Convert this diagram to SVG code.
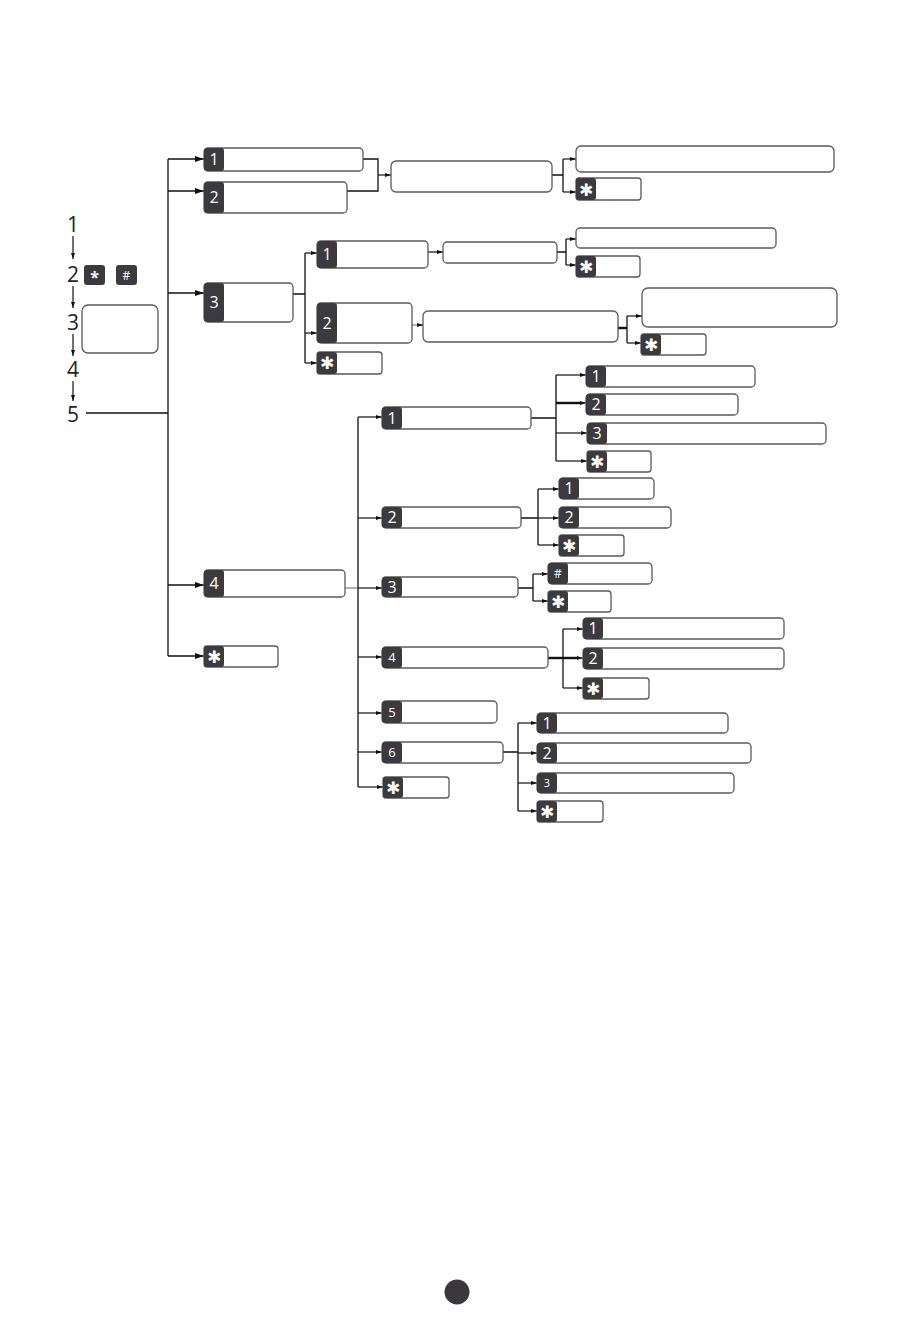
<svg xmlns="http://www.w3.org/2000/svg" width="914" height="1324" viewBox="0 0 914 1324">
<defs>
<style>
.bx{fill:#fff;stroke:#5a5a5a;stroke-width:1.3}
.k{fill:#3b3a3e}
.kt{fill:#fff;font-family:"Open Sans","Liberation Sans",sans-serif;font-size:16px;text-anchor:middle}
.ks{fill:#fff;font-family:"DejaVu Sans",sans-serif;font-size:17px;text-anchor:middle}
.num{fill:#231f20;font-family:"Open Sans","Liberation Sans",sans-serif;font-size:21px;text-anchor:middle}
.c{fill:none;stroke:#111;stroke-width:1.3}
.cg{fill:none;stroke:#888;stroke-width:1.3}
.ct{fill:none;stroke:#111;stroke-width:2.4}
.al{fill:none;stroke:#111;stroke-width:1.3;marker-end:url(#ml)}
.as{fill:none;stroke:#111;stroke-width:1.2;marker-end:url(#ms)}
</style>
<marker id="ml" markerUnits="userSpaceOnUse" markerWidth="9" markerHeight="6" refX="9" refY="3" orient="auto"><path d="M0,0 L9,3 L0,6 z" fill="#111"/></marker>
<marker id="ms" markerUnits="userSpaceOnUse" markerWidth="6" markerHeight="4" refX="6" refY="2" orient="auto"><path d="M0,0 L6,2 L0,4 z" fill="#111"/></marker>
</defs>
<rect width="914" height="1324" fill="#fff"/>

<g id="connectors">
<path class="as" d="M73,236 V259"/>
<path class="as" d="M73,286 V308"/>
<path class="as" d="M73,334 V356"/>
<path class="as" d="M73,381 V401"/>
<path class="c" d="M86,413 H168 M168,159 V656"/>
<path class="al" d="M168,159 H204"/>
<path class="al" d="M168,191 H204"/>
<path class="al" d="M168,293 H204"/>
<path class="al" d="M168,585 H204"/>
<path class="al" d="M168,656 H204"/>
<path class="c" d="M363,159 H378 V191 H347"/>
<path class="as" d="M378,175 H391"/>
<path class="c" d="M552,175 H563 M563,159 V192"/>
<path class="as" d="M563,159 H576"/>
<path class="as" d="M563,192 H576"/>
<path class="c" d="M293,294 H305 M305,253 V363"/>
<path class="as" d="M305,253 H317"/>
<path class="as" d="M305,333 H317"/>
<path class="as" d="M305,363 H317"/>
<path class="as" d="M428,252 H443"/>
<path class="c" d="M557,252 H566 M566,239 V265"/>
<path class="as" d="M566,239 H576"/>
<path class="as" d="M566,265 H576"/>
<path class="cg" d="M412,325 H418"/>
<path class="as" d="M417,325 H423"/>
<path class="ct" d="M618,328 H627"/>
<path class="c" d="M627,316 V343"/>
<path class="as" d="M627,316 H642"/>
<path class="as" d="M627,343 H641"/>
<path class="cg" d="M345,588 H358"/>
<path class="c" d="M358,417 V787"/>
<path class="as" d="M358,417 H382"/>
<path class="as" d="M358,518 H382"/>
<path class="as" d="M358,588 H382"/>
<path class="as" d="M358,657 H382"/>
<path class="as" d="M358,713 H382"/>
<path class="as" d="M358,752 H382"/>
<path class="as" d="M358,787 H383"/>
<path class="c" d="M531,418 H556 M556,375 V461"/>
<path class="as" d="M556,375 H586"/>
<path class="ct" d="M556,403 H580"/>
<path class="as" d="M578,403 H586"/>
<path class="as" d="M556,433 H587"/>
<path class="as" d="M556,461 H587"/>
<path class="c" d="M521,518 H538 M538,489 V545"/>
<path class="as" d="M538,489 H559"/>
<path class="as" d="M538,518 H559"/>
<path class="as" d="M538,545 H559"/>
<path class="c" d="M518,588 H533 M533,574 V601"/>
<path class="as" d="M533,574 H548"/>
<path class="as" d="M533,601 H548"/>
<path class="ct" d="M548,658 H563"/>
<path class="c" d="M563,629 V688"/>
<path class="as" d="M563,629 H583"/>
<path class="ct" d="M563,658 H577"/>
<path class="as" d="M575,658 H583"/>
<path class="as" d="M563,688 H583"/>
<path class="c" d="M503,752 H518 M518,723 V811"/>
<path class="as" d="M518,723 H537"/>
<path class="as" d="M518,753 H537"/>
<path class="as" d="M518,783 H537"/>
<path class="as" d="M518,811 H537"/>
</g>

<g id="steps">
<text class="num" x="73" y="232">1</text>
<text class="num" x="73" y="282">2</text>
<text class="num" x="73" y="330">3</text>
<text class="num" x="73" y="377">4</text>
<text class="num" x="73" y="422">5</text>
</g>
<g id="key-star-small"><rect class="k" x="84" y="265" width="21" height="20" rx="3"/><text class="kt" x="94.5" y="283" style="font-size:16px;font-weight:bold">*</text></g>
<g id="key-hash-small"><rect class="k" x="116" y="265" width="21" height="20" rx="3"/><text class="kt" x="126.5" y="280" style="font-size:12px">#</text></g>
<g id="display"><rect class="bx" x="82" y="305" width="76" height="48" rx="6"/></g>

<g id="n1"><rect class="bx" x="204" y="148" width="159" height="23" rx="4"/><rect class="k" x="204" y="148" width="20" height="23" rx="3"/><text class="kt" x="214" y="165">1</text></g>
<g id="n2"><rect class="bx" x="204" y="182" width="143" height="31" rx="4"/><rect class="k" x="204" y="182" width="20" height="31" rx="3"/><text class="kt" x="214" y="203">2</text></g>
<g id="n12"><rect class="bx" x="391" y="161" width="161" height="31" rx="5"/></g>
<g id="n12a"><rect class="bx" x="576" y="146" width="258" height="26" rx="5"/></g>
<g id="n12s"><rect class="bx" x="576" y="178" width="65" height="22" rx="3"/><rect class="k" x="576" y="178" width="20" height="22" rx="3"/><text class="ks" x="586" y="195.5">✱</text></g>

<g id="n3"><rect class="bx" x="204" y="283" width="89" height="39" rx="4"/><rect class="k" x="204" y="283" width="20" height="39" rx="3"/><text class="kt" x="214" y="308">3</text></g>
<g id="n31"><rect class="bx" x="317" y="241" width="111" height="27" rx="4"/><rect class="k" x="317" y="241" width="20" height="27" rx="3"/><text class="kt" x="327" y="260">1</text></g>
<g id="n31b"><rect class="bx" x="443" y="242" width="114" height="21" rx="4"/></g>
<g id="n31c"><rect class="bx" x="576" y="228" width="200" height="20" rx="4"/></g>
<g id="n31s"><rect class="bx" x="576" y="256" width="64" height="21" rx="3"/><rect class="k" x="576" y="256" width="20" height="21" rx="3"/><text class="ks" x="586" y="272.5">✱</text></g>
<g id="n32"><rect class="bx" x="317" y="303" width="95" height="40" rx="4"/><rect class="k" x="317" y="303" width="20" height="40" rx="3"/><text class="kt" x="327" y="329">2</text></g>
<g id="n32b"><rect class="bx" x="423" y="311" width="195" height="31" rx="5"/></g>
<g id="n32c"><rect class="bx" x="642" y="288" width="195" height="39" rx="6"/></g>
<g id="n32s"><rect class="bx" x="641" y="334" width="65" height="21" rx="3"/><rect class="k" x="641" y="334" width="20" height="21" rx="3"/><text class="ks" x="651" y="350.5">✱</text></g>
<g id="n3s"><rect class="bx" x="317" y="352" width="65" height="22" rx="3"/><rect class="k" x="317" y="352" width="20" height="22" rx="3"/><text class="ks" x="327" y="369">✱</text></g>

<g id="n4"><rect class="bx" x="204" y="570" width="141" height="27" rx="4"/><rect class="k" x="204" y="570" width="20" height="27" rx="3"/><text class="kt" x="214" y="589">4</text></g>
<g id="nstar"><rect class="bx" x="204" y="646" width="74" height="21" rx="3"/><rect class="k" x="204" y="646" width="20" height="21" rx="3"/><text class="ks" x="214" y="662.5">✱</text></g>

<g id="n41"><rect class="bx" x="382" y="407" width="149" height="22" rx="4"/><rect class="k" x="382" y="407" width="20" height="22" rx="3"/><text class="kt" x="392" y="424">1</text></g>
<g id="n41a"><rect class="bx" x="586" y="366" width="169" height="21" rx="4"/><rect class="k" x="586" y="366" width="20" height="21" rx="3"/><text class="kt" x="596" y="382">1</text></g>
<g id="n41b"><rect class="bx" x="586" y="394" width="152" height="21" rx="4"/><rect class="k" x="586" y="394" width="20" height="21" rx="3"/><text class="kt" x="596" y="410">2</text></g>
<g id="n41c"><rect class="bx" x="587" y="423" width="239" height="21" rx="4"/><rect class="k" x="587" y="423" width="20" height="21" rx="3"/><text class="kt" x="597" y="439">3</text></g>
<g id="n41s"><rect class="bx" x="587" y="451" width="64" height="21" rx="3"/><rect class="k" x="587" y="451" width="20" height="21" rx="3"/><text class="ks" x="597" y="467.5">✱</text></g>

<g id="n42"><rect class="bx" x="382" y="507" width="139" height="21" rx="4"/><rect class="k" x="382" y="507" width="20" height="21" rx="3"/><text class="kt" x="392" y="523">2</text></g>
<g id="n42a"><rect class="bx" x="559" y="478" width="95" height="21" rx="4"/><rect class="k" x="559" y="478" width="20" height="21" rx="3"/><text class="kt" x="569" y="494">1</text></g>
<g id="n42b"><rect class="bx" x="559" y="507" width="112" height="21" rx="4"/><rect class="k" x="559" y="507" width="20" height="21" rx="3"/><text class="kt" x="569" y="523">2</text></g>
<g id="n42s"><rect class="bx" x="559" y="535" width="65" height="21" rx="3"/><rect class="k" x="559" y="535" width="20" height="21" rx="3"/><text class="ks" x="569" y="551.5">✱</text></g>

<g id="n43"><rect class="bx" x="382" y="577" width="136" height="20" rx="4"/><rect class="k" x="382" y="577" width="20" height="20" rx="3"/><text class="kt" x="392" y="593">3</text></g>
<g id="n43h"><rect class="bx" x="548" y="563" width="104" height="21" rx="4"/><rect class="k" x="548" y="563" width="20" height="21" rx="3"/><text class="kt" x="558" y="578" style="font-size:12px">#</text></g>
<g id="n43s"><rect class="bx" x="548" y="591" width="63" height="21" rx="3"/><rect class="k" x="548" y="591" width="20" height="21" rx="3"/><text class="ks" x="558" y="607.5">✱</text></g>

<g id="n44"><rect class="bx" x="382" y="647" width="166" height="21" rx="4"/><rect class="k" x="382" y="647" width="20" height="21" rx="3"/><text class="kt" x="392" y="662" style="font-size:13px">4</text></g>
<g id="n44a"><rect class="bx" x="583" y="618" width="201" height="21" rx="4"/><rect class="k" x="583" y="618" width="20" height="21" rx="3"/><text class="kt" x="593" y="634">1</text></g>
<g id="n44b"><rect class="bx" x="583" y="648" width="201" height="21" rx="4"/><rect class="k" x="583" y="648" width="20" height="21" rx="3"/><text class="kt" x="593" y="664">2</text></g>
<g id="n44s"><rect class="bx" x="583" y="678" width="66" height="21" rx="3"/><rect class="k" x="583" y="678" width="20" height="21" rx="3"/><text class="ks" x="593" y="694.5">✱</text></g>

<g id="n45"><rect class="bx" x="382" y="701" width="115" height="22" rx="4"/><rect class="k" x="382" y="701" width="20" height="22" rx="3"/><text class="kt" x="392" y="716.6" style="font-size:13px">5</text></g>
<g id="n46"><rect class="bx" x="382" y="742" width="121" height="21" rx="4"/><rect class="k" x="382" y="742" width="20" height="21" rx="3"/><text class="kt" x="392" y="757" style="font-size:13px">6</text></g>
<g id="n46a"><rect class="bx" x="537" y="713" width="191" height="20" rx="4"/><rect class="k" x="537" y="713" width="20" height="20" rx="3"/><text class="kt" x="547" y="728.7">1</text></g>
<g id="n46b"><rect class="bx" x="537" y="743" width="214" height="20" rx="4"/><rect class="k" x="537" y="743" width="20" height="20" rx="3"/><text class="kt" x="547" y="758.7">2</text></g>
<g id="n46c"><rect class="bx" x="537" y="773" width="197" height="20" rx="4"/><rect class="k" x="537" y="773" width="20" height="20" rx="3"/><text class="kt" x="547" y="787" style="font-size:11px">3</text></g>
<g id="n46s"><rect class="bx" x="537" y="801" width="66" height="21" rx="3"/><rect class="k" x="537" y="801" width="20" height="21" rx="3"/><text class="ks" x="547" y="817.5">✱</text></g>
<g id="n4s"><rect class="bx" x="383" y="777" width="66" height="21" rx="3"/><rect class="k" x="383" y="777" width="20" height="21" rx="3"/><text class="ks" x="393" y="793.5">✱</text></g>

<g id="page-dot"><circle cx="457" cy="1292" r="12.5" fill="#3a383c"/></g>
</svg>
